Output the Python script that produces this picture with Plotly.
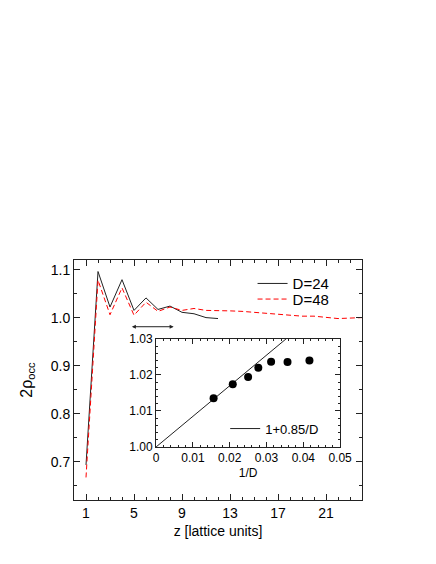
import plotly.graph_objects as go

# main panel: occupation profile vs z
z24 = [1, 2, 3, 4, 5, 6, 7, 8, 9, 10, 11, 12]
rho24 = [0.693, 1.096, 1.022, 1.079, 1.015, 1.041, 1.017, 1.024, 1.011, 1.008, 1.000, 0.998]
z48 = [1, 2, 3, 4, 5, 6, 7, 8, 9, 10, 11, 12, 13, 14, 15, 16, 17, 18, 19, 20, 21, 22, 23, 24]
rho48 = [0.667, 1.078, 1.006, 1.062, 1.005, 1.032, 1.013, 1.022, 1.015, 1.019, 1.015, 1.015,
         1.014, 1.013, 1.011, 1.008, 1.006, 1.004, 1.003, 1.003, 1.001, 0.998, 0.999, 1.000]

# inset: bulk value vs 1/D
invD = [1/64, 1/48, 1/40, 1/36, 1/32, 1/28, 1/24]
rho_bulk = [1.0135, 1.0174, 1.0194, 1.0220, 1.0237, 1.0236, 1.0240]
fit_x = [0, 0.05]
fit_y = [1 + 0.85 * v for v in fit_x]

FONT = "Liberation Sans, Arial, Helvetica, sans-serif"

fig = go.Figure()
fig.add_trace(go.Scatter(x=z24, y=rho24, mode="lines", name="D=24",
                         line=dict(color="#222", width=1), legend="legend"))
fig.add_trace(go.Scatter(x=z48, y=rho48, mode="lines", name="D=48",
                         line=dict(color="red", width=1, dash="5px,3px"), legend="legend3"))

fig.add_trace(go.Scatter(x=fit_x, y=fit_y, mode="lines", name="1+0.85/D",
                         line=dict(color="#222", width=1), xaxis="x2", yaxis="y2",
                         legend="legend2"))
fig.add_trace(go.Scatter(x=invD, y=rho_bulk, mode="markers", showlegend=False,
                         marker=dict(color="black", size=8), xaxis="x2", yaxis="y2"))

# double arrow
fig.add_annotation(x=8.3, y=0.981, ax=4.7, ay=0.981, xref="x", yref="y", axref="x", ayref="y",
                   text="", showarrow=True, arrowside="end+start", arrowhead=2,
                   arrowsize=0.8, arrowwidth=1, arrowcolor="#222")

axis_common = dict(showline=True, linecolor="#222", linewidth=1, mirror="allticks",
                   ticks="inside", tickcolor="#222", showgrid=False, zeroline=False,
                   automargin=False)

# page body has an 8px margin, so the figure is shrunk by that much
fig.update_layout(
    width=428, height=556,
    margin=dict(l=66, r=74, t=252, b=64),
    paper_bgcolor="white", plot_bgcolor="white",
    font=dict(family=FONT, size=14, color="black"),
    xaxis=dict(range=[0, 24], tickvals=[1, 5, 9, 13, 17, 21], ticklen=6,
               minor=dict(dtick=1, tick0=0, ticklen=3, ticks="inside", tickcolor="#222"),
               title=dict(text="z [lattice units]", font=dict(size=14), standoff=6),
               **axis_common),
    yaxis=dict(range=[0.62, 1.12], tickvals=[0.7, 0.8, 0.9, 1.0, 1.1], tickformat=".1f",
               ticklen=6,
               minor=dict(dtick=0.05, tick0=0, ticklen=3, ticks="inside", tickcolor="#222"),
               title=dict(text="2ρ<sub>occ</sub>", font=dict(size=16), standoff=14),
               **axis_common),
    xaxis2=dict(domain=[0.285, 0.924], anchor="y2", range=[0, 0.05], dtick=0.01,
                ticklen=5, tickfont=dict(size=12),
                minor=dict(dtick=0.002, ticklen=2, ticks="inside", tickcolor="#222"),
                title=dict(text="1/D", font=dict(size=12), standoff=4),
                **axis_common),
    yaxis2=dict(domain=[0.221, 0.671], anchor="x2", range=[1.0, 1.03], dtick=0.01,
                tickformat=".2f", ticklen=5, tickfont=dict(size=12),
                minor=dict(dtick=0.002, ticklen=2, ticks="inside", tickcolor="#222"),
                **axis_common),
    legend=dict(x=0.62, y=0.97, xanchor="left", yanchor="top", bgcolor="rgba(0,0,0,0)",
                font=dict(size=15), itemwidth=30),
    legend3=dict(x=0.62, y=0.905, xanchor="left", yanchor="top", bgcolor="rgba(0,0,0,0)",
                 font=dict(size=15), itemwidth=30),
    legend2=dict(x=0.525, y=0.36, xanchor="left", yanchor="top", bgcolor="rgba(0,0,0,0)",
                 font=dict(size=13), itemwidth=30),
)

fig.write_html("out.html")
